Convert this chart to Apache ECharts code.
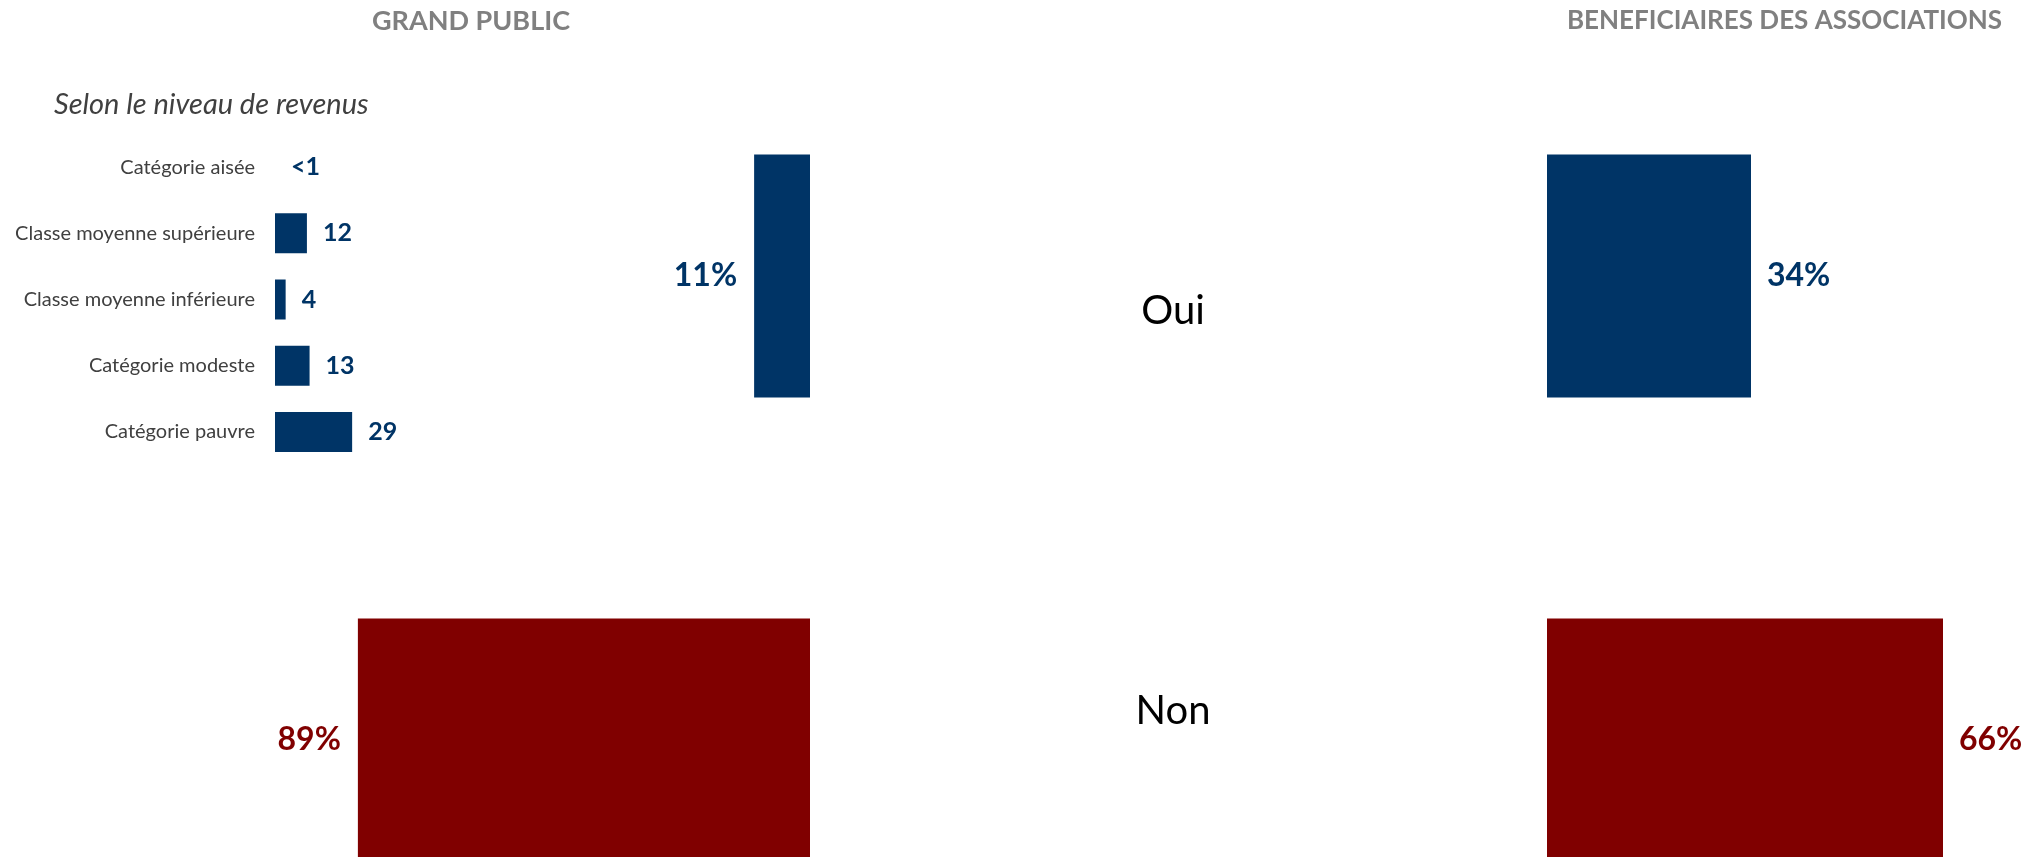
<!DOCTYPE html>
<html>
<head>
<meta charset="utf-8">
<script src="https://cdn.jsdelivr.net/npm/echarts@6/dist/echarts.min.js"></script>
<style>
	html, body { margin: 0; padding: 0; background: #fff; }
	#chart { width: 2034px; height: 857px; }
</style>
</head>
<body>
<div id="chart"></div>
<script>
// données
var revenueCats = ['Catégorie aisée', 'Classe moyenne supérieure', 'Classe moyenne inférieure', 'Catégorie modeste', 'Catégorie pauvre'];
var revenueValues = [0, 12, 4, 13, 29];
var revenueLabels = ['<1', '12', '4', '13', '29'];

var answerCats = ['Oui', 'Non'];
var grandPublicValues = [11, 89];
var beneficiairesValues = [34, 66];

var panelTitles = ['GRAND PUBLIC', 'BENEFICIAIRES DES ASSOCIATIONS'];
var subTitle = 'Selon le niveau de revenus';

var NAVY = '#003466';
var RED = '#800000';
var answerColors = [NAVY, RED];
var FONT = 'Lato, "Open Sans", sans-serif';

var chart = echarts.init(document.getElementById('chart'));

function answerData(values) {
	return values.map(function (v, i) {
		return {
			value: v,
			itemStyle: { color: answerColors[i] },
			label: { color: answerColors[i] }
		};
	});
}

var bigLabel = {
	show: true,
	formatter: '{c}%',
	fontFamily: FONT,
	fontWeight: 'bold',
	fontSize: 32
};

var option = {
	backgroundColor: '#fff',
	animation: false,
	title: [{
		text: panelTitles[0],
		left: 372,
		top: 8,
		padding: 0,
		textStyle: { color: '#808080', fontSize: 27, fontWeight: 'bold', fontFamily: FONT }
	}, {
		text: panelTitles[1],
		right: 32,
		top: 8,
		padding: 0,
		textStyle: { color: '#808080', fontSize: 26, fontWeight: 'bold', fontFamily: FONT }
	}, {
		text: subTitle,
		left: 54,
		top: 90,
		padding: 0,
		textStyle: { color: '#404040', fontSize: 29, fontWeight: 'normal', fontStyle: 'italic', fontFamily: FONT }
	}],
	// les grandes grilles dépassent le bas de la page, comme dans l'original
	grid: [
		{ left: 275, top: 134, width: 266, height: 331, outerBoundsMode: 'none' },   // revenus
		{ left: 302, top: 44, width: 508, height: 928, outerBoundsMode: 'none' },    // grand public
		{ left: 1547, top: 44, width: 600, height: 928, outerBoundsMode: 'none' },   // bénéficiaires
		{ left: 1173, top: 111, width: 1, height: 800, outerBoundsMode: 'none' }     // Oui / Non
	],
	xAxis: [
		{ gridIndex: 0, type: 'value', min: 0, max: 100, show: false },
		{ gridIndex: 1, type: 'value', min: 0, max: 100, inverse: true, show: false },
		{ gridIndex: 2, type: 'value', min: 0, max: 100, show: false },
		{ gridIndex: 3, type: 'value', min: 0, max: 100, show: false }
	],
	yAxis: [{
		gridIndex: 0,
		type: 'category',
		data: revenueCats,
		inverse: true,
		axisLine: { show: false },
		axisTick: { show: false },
		splitLine: { show: false },
		axisLabel: { color: '#404040', fontSize: 20, fontFamily: FONT, margin: 20 }
	}, {
		gridIndex: 1,
		type: 'category',
		data: answerCats,
		inverse: true,
		show: false
	}, {
		gridIndex: 2,
		type: 'category',
		data: answerCats,
		inverse: true,
		show: false
	}, {
		gridIndex: 3,
		type: 'category',
		data: answerCats,
		inverse: true,
		axisLine: { show: false },
		axisTick: { show: false },
		splitLine: { show: false },
		axisLabel: { color: '#000', fontSize: 40, fontFamily: FONT, align: 'center', margin: 0 }
	}],
	series: [{
		type: 'bar',
		xAxisIndex: 0,
		yAxisIndex: 0,
		data: revenueValues,
		barWidth: 40,
		itemStyle: { color: NAVY },
		label: {
			show: true,
			position: 'right',
			distance: 16,
			color: NAVY,
			fontFamily: FONT,
			fontWeight: 'bold',
			fontSize: 25,
			formatter: function (p) { return revenueLabels[p.dataIndex]; }
		}
	}, {
		type: 'bar',
		xAxisIndex: 1,
		yAxisIndex: 1,
		data: answerData(grandPublicValues),
		barWidth: 243,
		label: Object.assign({ position: 'left', distance: 17 }, bigLabel)
	}, {
		type: 'bar',
		xAxisIndex: 2,
		yAxisIndex: 2,
		data: answerData(beneficiairesValues),
		barWidth: 243,
		label: Object.assign({ position: 'right', distance: 16 }, bigLabel)
	}]
};

chart.setOption(option);
</script>
</body>
</html>
